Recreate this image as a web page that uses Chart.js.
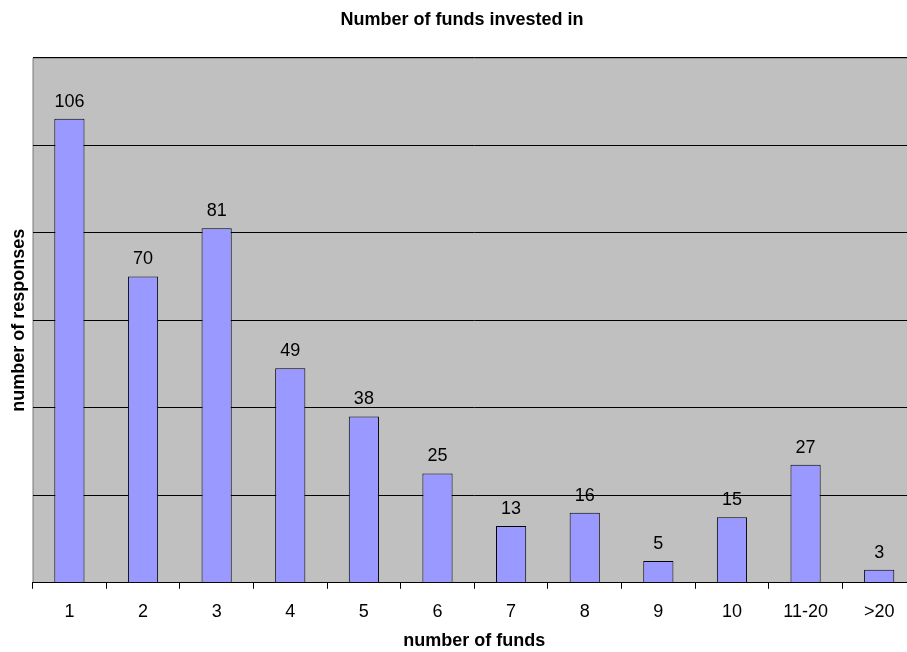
<!DOCTYPE html>
<html>
<head>
<meta charset="utf-8">
<script src="https://cdn.jsdelivr.net/npm/chart.js@4"></script>
<style>
  html, body { margin: 0; padding: 0; background: #fff; overflow: hidden; }
  #wrap { width: 917px; height: 652px; }
</style>
</head>
<body>
<div id="wrap"><canvas id="chart"></canvas></div>
<script>
const categories = ["1", "2", "3", "4", "5", "6", "7", "8", "9", "10", "11-20", ">20"];
const responses = [106, 70, 81, 49, 38, 25, 13, 16, 5, 15, 27, 3];

const font = "'Liberation Sans', Arial, sans-serif";

// gray plot area behind the bars
const plotBackground = {
  id: "plotBackground",
  beforeDraw(chart) {
    const { ctx, chartArea: a } = chart;
    ctx.save();
    ctx.fillStyle = "#c0c0c0";
    ctx.fillRect(a.left, a.top, a.right - a.left, a.bottom - a.top);
    ctx.strokeStyle = "#808080";
    ctx.lineWidth = 1;
    ctx.beginPath();
    ctx.moveTo(a.left + 0.5, a.bottom);
    ctx.lineTo(a.left + 0.5, a.top + 0.5);
    ctx.lineTo(a.right, a.top + 0.5);
    ctx.stroke();
    ctx.restore();
  }
};

// value labels above each bar
const valueLabels = {
  id: "valueLabels",
  afterDatasetsDraw(chart) {
    const { ctx } = chart;
    const meta = chart.getDatasetMeta(0);
    ctx.save();
    ctx.fillStyle = "#000";
    ctx.font = "18px " + font;
    ctx.textAlign = "center";
    ctx.textBaseline = "alphabetic";
    meta.data.forEach((bar, i) => {
      ctx.fillText(String(responses[i]), bar.x, bar.y - 12);
    });
    ctx.restore();
  }
};

new Chart(document.getElementById("chart"), {
  type: "bar",
  data: {
    labels: categories,
    datasets: [{
      data: responses,
      backgroundColor: "#9999ff",
      borderColor: "#000",
      borderWidth: 1,
      barPercentage: 0.41,
      categoryPercentage: 1
    }]
  },
  options: {
    responsive: true,
    maintainAspectRatio: false,
    animation: false,
    layout: { padding: { top: 0, left: 8, right: 1, bottom: 0 } },
    plugins: {
      legend: { display: false },
      tooltip: { enabled: false },
      title: {
        display: true,
        text: "Number of funds invested in",
        color: "#000",
        font: { family: font, size: 18, weight: "bold" },
        padding: { top: 9, bottom: 27 }
      }
    },
    scales: {
      x: {
        grid: {
          display: true,
          drawOnChartArea: false,
          drawTicks: true,
          tickLength: 6,
          color: "#000",
          offset: true
        },
        border: { display: true, color: "#000", width: 1 },
        ticks: { color: "#000", font: { family: font, size: 18 }, padding: 12 },
        title: {
          display: true,
          text: "number of funds",
          color: "#000",
          font: { family: font, size: 18, weight: "bold" },
          padding: { top: -4, bottom: 0 }
        }
      },
      y: {
        min: 0,
        max: 120,
        ticks: { display: false, stepSize: 20 },
        grid: { color: "#000", drawTicks: false },
        border: { display: false },
        title: {
          display: true,
          text: "number of responses",
          color: "#000",
          font: { family: font, size: 18, weight: "bold" },
          padding: { top: 0, bottom: 3 }
        }
      }
    }
  },
  plugins: [plotBackground, valueLabels]
});
</script>
</body>
</html>
